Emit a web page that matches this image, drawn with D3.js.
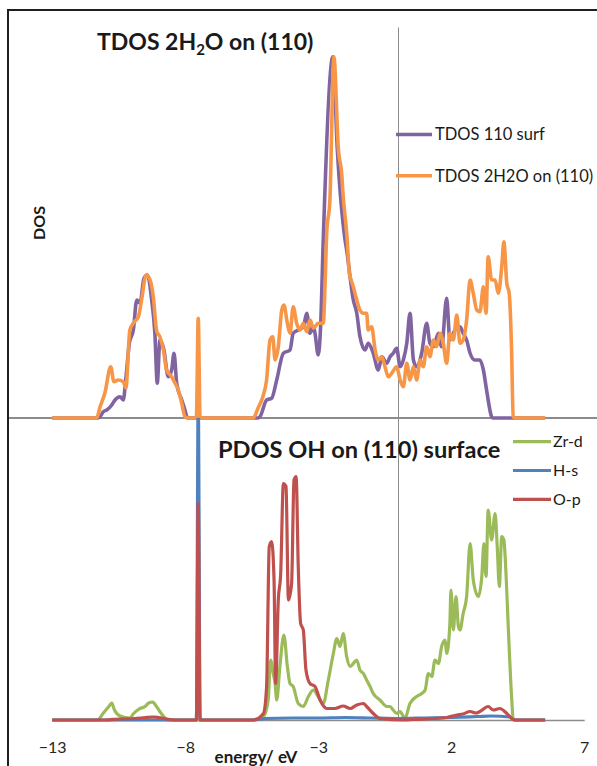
<!DOCTYPE html>
<html>
<head>
<meta charset="utf-8">
<script src="https://cdn.jsdelivr.net/npm/d3@7"></script>
<style>
  body { margin: 0; background: #fff; }
  svg { display: block; }
  text { font-family: Lato, "Open Sans", "Liberation Sans", sans-serif; fill: #1a1a1a; }
</style>
</head>
<body>
<svg id="chart" width="597" height="766"></svg>
<script>
// ---- total DOS, [energy (eV), DOS] ----
const tdosSurf = [
  [-13,0],[-11.28,0],[-11.20,0.05],[-11.08,0.25],[-10.95,0.32],[-10.76,0.52],[-10.64,0.72],[-10.45,0.85],
  [-10.33,0.72],[-10.23,1.59],[-10.10,2.99],[-9.95,3.52],[-9.82,4.72],[-9.70,4.59],[-9.55,5.59],[-9.42,5.72],
  [-9.26,4.72],[-9.14,3.39],[-9.05,1.39],[-8.95,3.12],[-8.80,2.72],[-8.64,1.65],[-8.51,1.92],[-8.42,2.59],
  [-8.32,1.39],[-8.13,0.72],[-8.01,0.32],[-7.94,0.05],[-7.89,0],[-5.26,0],[-5.19,0.05],[-4.94,0.72],
  [-4.75,0.79],[-4.56,1.52],[-4.31,2.59],[-4.06,2.72],[-3.94,3.39],[-3.75,3.52],[-3.56,3.65],[-3.43,4.19],
  [-3.31,3.39],[-3.18,3.65],[-3.12,3.39],[-3.00,2.52],[-2.91,3.65],[-2.81,7.12],[-2.45,14.45],[-2.28,10.72],
  [-1.99,7.12],[-1.93,6.72],[-1.68,4.72],[-1.55,4.19],[-1.43,3.25],[-1.24,2.72],[-1.12,2.99],[-0.93,2.59],
  [-0.74,1.92],[-0.61,2.45],[-0.42,2.19],[-0.30,2.45],[-0.18,2.59],[-0.05,2.79],[0.08,2.05],[0.20,2.32],
  [0.33,2.99],[0.45,4.19],[0.58,2.32],[0.70,2.05],[0.89,2.59],[1.08,3.79],[1.20,2.99],[1.33,2.85],
  [1.52,3.39],[1.64,2.85],[1.83,4.79],[1.95,3.12],[2.14,3.52],[2.33,3.65],[2.45,3.39],[2.58,3.12],
  [2.71,2.59],[2.89,2.32],[3.08,2.32],[3.21,1.92],[3.33,1.12],[3.52,0.05],[3.57,0],[5.53,0]
];
const tdosWater = [
  [-13,0],[-11.33,0],[-11.20,0.45],[-11.02,1.0],[-10.80,2.05],[-10.68,1.45],[-10.52,1.52],[-10.33,1.45],
  [-10.23,1.2],[-10.08,3.52],[-9.91,3.85],[-9.76,4.05],[-9.64,4.72],[-9.47,5.72],[-9.32,5.52],[-9.20,4.85],
  [-9.07,3.47],[-8.95,3.25],[-8.82,2.72],[-8.70,1.92],[-8.51,1.65],[-8.38,1.39],[-8.26,1.12],[-8.13,0.59],
  [-8.01,0.05],[-7.89,0],[-7.58,0],[-7.51,3.99],[-7.44,0],[-5.44,0],[-5.26,0.4],[-5.08,0.85],[-4.94,1.52],
  [-4.81,3.12],[-4.71,3.25],[-4.62,2.32],[-4.50,2.85],[-4.37,4.32],[-4.29,4.52],[-4.16,3.79],[-4.06,3.39],
  [-3.94,4.45],[-3.81,3.79],[-3.68,3.52],[-3.56,3.79],[-3.43,3.45],[-3.31,3.92],[-3.18,3.59],[-3.00,3.79],
  [-2.81,3.79],[-2.74,5.4],[-2.68,7.4],[-2.56,8.72],[-2.41,14.45],[-2.24,10.72],[-2.12,9.8],[-2.06,8.85],
  [-1.95,7.65],[-1.91,7.12],[-1.83,5.79],[-1.80,5.65],[-1.68,5.25],[-1.55,4.72],[-1.43,4.32],[-1.30,4.19],
  [-1.18,4.19],[-1.12,3.52],[-0.99,3.65],[-0.86,2.72],[-0.74,2.32],[-0.61,2.45],[-0.49,2.05],[-0.36,1.65],
  [-0.23,1.8],[-0.05,2.05],[0.08,1.52],[0.20,1.25],[0.33,2.19],[0.45,1.52],[0.58,2.05],[0.70,1.52],
  [0.83,2.32],[0.95,2.05],[1.08,2.85],[1.20,2.45],[1.33,3.12],[1.45,2.85],[1.58,3.39],[1.70,2.99],
  [1.83,2.19],[1.95,3.39],[2.08,3.12],[2.21,4.12],[2.33,2.99],[2.45,3.12],[2.58,3.92],[2.71,5.52],
  [2.83,4.99],[2.96,4.32],[3.08,4.25],[3.21,5.25],[3.31,4.19],[3.39,6.45],[3.52,5.52],[3.65,5.52],
  [3.77,4.99],[3.90,6.05],[3.98,7.05],[4.09,5.39],[4.18,4.99],[4.27,2.72],[4.33,0.05],[4.40,0],[5.53,0]
];

// ---- projected DOS of the OH group and surface Zr ----
const zrD = [
  [-13,0],[-11.3,0],[-11.09,0.13],[-10.87,0.27],[-10.76,0.34],[-10.66,0.2],[-10.44,0.08],[-10.08,0.04],
  [-9.94,0.13],[-9.73,0.22],[-9.51,0.27],[-9.37,0.34],[-9.22,0.36],[-9.08,0.27],[-8.94,0.16],[-8.76,0.04],
  [-8.65,0],[-5.56,0],[-5.06,0.07],[-4.88,0.4],[-4.79,1.2],[-4.69,0.93],[-4.62,0.73],[-4.56,0.4],
  [-4.44,1.07],[-4.29,1.7],[-4.16,1.07],[-4.06,0.73],[-3.94,0.67],[-3.75,0.33],[-3.56,0.27],[-3.37,0.47],
  [-3.18,0.6],[-3.00,0.47],[-2.81,0.33],[-2.62,0.8],[-2.43,1.33],[-2.30,1.63],[-2.18,1.47],[-2.06,1.73],
  [-1.93,1.27],[-1.80,1.07],[-1.68,1.13],[-1.55,1.2],[-1.43,1.0],[-1.30,0.93],[-1.18,0.8],[-1.05,0.67],
  [-0.93,0.53],[-0.68,0.4],[-0.42,0.27],[-0.30,0.27],[-0.18,0.2],[-0.05,0.13],[0.08,0.17],[0.20,0.07],
  [0.26,0.03],[0.45,0.33],[0.70,0.47],[0.89,0.53],[1.02,0.6],[1.14,0.93],[1.27,0.87],[1.39,1.2],
  [1.52,1.13],[1.64,1.47],[1.77,1.6],[1.83,1.33],[1.95,1.93],[1.99,2.6],[2.08,1.8],[2.18,2.47],
  [2.27,1.87],[2.33,1.8],[2.45,2.13],[2.58,2.47],[2.71,3.53],[2.83,2.8],[3.02,2.47],[3.15,2.87],
  [3.23,3.53],[3.31,2.87],[3.39,4.2],[3.52,3.6],[3.65,4.13],[3.73,3.47],[3.81,2.67],[3.90,3.67],
  [3.98,3.6],[4.06,2.93],[4.15,1.8],[4.27,0.47],[4.33,0.03],[4.40,0],[5.53,0]
];
const hS = [
  [-13,0],[-7.58,0],[-7.51,6.5],[-7.44,0],[-5.4,0],[-5.0,0.03],[-4,0.04],[-3,0.04],[-2,0.05],[-1,0.04],
  [0,0.03],[1,0.04],[2,0.05],[3,0.07],[3.5,0.08],[4.2,0.06],[4.35,0],[5.53,0]
];
const oP = [
  [-13,0],[-11,0],[-10.5,0.02],[-9.9,0.03],[-9.5,0.05],[-9.2,0.06],[-9.0,0.05],[-8.7,0.02],[-8.4,0],
  [-7.58,0],[-7.51,4.33],[-7.44,0],[-5.44,0],[-5.06,0.13],[-4.94,0.67],[-4.84,3.47],[-4.75,3.57],
  [-4.66,2.8],[-4.60,0.73],[-4.50,2.4],[-4.41,2.93],[-4.31,4.73],[-4.21,4.67],[-4.12,2.4],[-4.00,2.73],
  [-3.91,4.8],[-3.83,4.87],[-3.75,3.07],[-3.66,1.93],[-3.56,1.8],[-3.46,1.0],[-3.31,0.73],[-3.12,0.67],
  [-2.93,0.4],[-2.68,0.23],[-2.37,0.23],[-2.06,0.28],[-1.80,0.23],[-1.55,0.3],[-1.30,0.33],[-1.18,0.27],
  [-0.93,0.13],[-0.68,0.03],[0.20,0],[0.58,0.01],[1.83,0.05],[2.21,0.1],[2.44,0.12],[2.71,0.17],
  [2.93,0.14],[3.08,0.17],[3.39,0.27],[3.58,0.2],[3.83,0.23],[4.09,0.13],[4.33,0.01],[4.44,0],[5.53,0]
];

const xTicks = [-13, -8, -3, 2, 7];
const topNames = ["TDOS 110 surf", "TDOS 2H2O on (110)"];
const bottomNames = ["Zr-d", "H-s", "O-p"];

// ---- layout ----
const W = 597, H = 766;
const frameL = 8, frameT = 10;
const topPlotTop = 27, midY = 418, baseY = 720;
const xL = 52.2, xR = 584.2;

const svg = d3.select("#chart");

const x = d3.scaleLinear().domain([-13, 7]).range([xL, xR]);
const yTop = d3.scaleLinear().domain([0, 15.64]).range([midY, topPlotTop]);
const yBot = d3.scaleLinear().domain([0, 6.04]).range([baseY, midY]);

const topColors = ["#8064A2", "#F79646"];
const botColors = ["#9BBB59", "#4F81BD", "#C0504D"];

// outer chart border
svg.append("path")
  .attr("d", `M${frameL},${H + 5}V${frameT}H${W + 5}`)
  .attr("fill", "none").attr("stroke", "#1f1f1f").attr("stroke-width", 2);

// panel separator / upper energy axis
svg.append("line")
  .attr("x1", frameL + 1).attr("x2", W).attr("y1", midY).attr("y2", midY)
  .attr("stroke", "#8c8c8c").attr("stroke-width", 2);

// vertical axes crossing at E = 0
svg.append("g").attr("transform", `translate(${x(0)},0)`)
  .call(d3.axisLeft(yTop).tickValues([]).tickSizeOuter(0))
  .call(g => g.select(".domain").attr("stroke", "#8c8c8c").attr("stroke-width", 1));
svg.append("g").attr("transform", `translate(${x(0)},0)`)
  .call(d3.axisLeft(yBot).tickValues([]).tickSizeOuter(0))
  .call(g => g.select(".domain").attr("stroke", "#8c8c8c").attr("stroke-width", 1));

// bottom energy axis
const xAxis = svg.append("g").attr("transform", `translate(0,${baseY})`)
  .call(d3.axisBottom(x).tickValues(xTicks).tickFormat(d3.format("d")).tickSize(0).tickSizeOuter(0).tickPadding(22));
xAxis.select(".domain").attr("stroke", "#8c8c8c").attr("stroke-width", 1.5);
xAxis.selectAll("text")
  .style("font-family", "Lato, 'Open Sans', sans-serif")
  .style("font-size", "16px").style("fill", "#262626");

// clip for the lower panel
svg.append("clipPath").attr("id", "botClip")
  .append("rect").attr("x", 0).attr("y", midY).attr("width", W).attr("height", H - midY);

const lineTop = d3.line().x(d => x(d[0])).y(d => yTop(d[1])).curve(d3.curveMonotoneX);
const lineBot = d3.line().x(d => x(d[0])).y(d => yBot(d[1])).curve(d3.curveMonotoneX);

// upper panel curves
svg.append("g").selectAll("path")
  .data([tdosSurf, tdosWater])
  .join("path")
  .attr("d", lineTop)
  .attr("fill", "none")
  .attr("stroke", (d, i) => topColors[i])
  .attr("stroke-width", 3.6)
  .attr("stroke-linejoin", "round");

// lower panel curves
svg.append("g").attr("clip-path", "url(#botClip)").selectAll("path")
  .data([zrD, hS, oP])
  .join("path")
  .attr("d", lineBot)
  .attr("fill", "none")
  .attr("stroke", (d, i) => botColors[i])
  .attr("stroke-width", 3.2)
  .attr("stroke-linejoin", "round");

// titles
const t1 = svg.append("text").attr("x", 97).attr("y", 50)
  .style("font-size", "23px").style("font-weight", "700");
t1.append("tspan").text("TDOS 2H");
t1.append("tspan").attr("dy", 5).style("font-size", "15px").text("2");
t1.append("tspan").attr("dy", -5).text("O on (110)");

svg.append("text").attr("x", 218).attr("y", 458)
  .style("font-size", "23.6px").style("font-weight", "700")
  .text("PDOS OH on (110) surface");

// axis titles
svg.append("text")
  .attr("transform", "translate(45,223) rotate(-90)")
  .attr("text-anchor", "middle")
  .style("font-size", "16px").style("font-weight", "700")
  .text("DOS");

svg.append("text").attr("x", 256).attr("y", 763)
  .attr("text-anchor", "middle")
  .style("font-size", "17px").style("font-weight", "700")
  .text("energy/ eV");

// legends
const topLeg = svg.append("g").selectAll("g").data(topNames).join("g")
  .attr("transform", (d, i) => `translate(396,${134.5 + i * 41.3})`);
topLeg.append("line").attr("x1", 0).attr("x2", 36)
  .attr("stroke", (d, i) => topColors[i]).attr("stroke-width", 3.6);
topLeg.append("text").attr("x", 39).attr("dy", "0.35em")
  .style("font-size", "16.5px").text(d => d);

const botLeg = svg.append("g").selectAll("g").data(bottomNames).join("g")
  .attr("transform", (d, i) => `translate(513,${441.7 + i * 28.8})`);
botLeg.append("line").attr("x1", 0).attr("x2", 38)
  .attr("stroke", (d, i) => botColors[i]).attr("stroke-width", 3.2);
botLeg.append("text").attr("x", 40).attr("dy", "0.35em")
  .style("font-size", "16px").text(d => d);
</script>
</body>
</html>
